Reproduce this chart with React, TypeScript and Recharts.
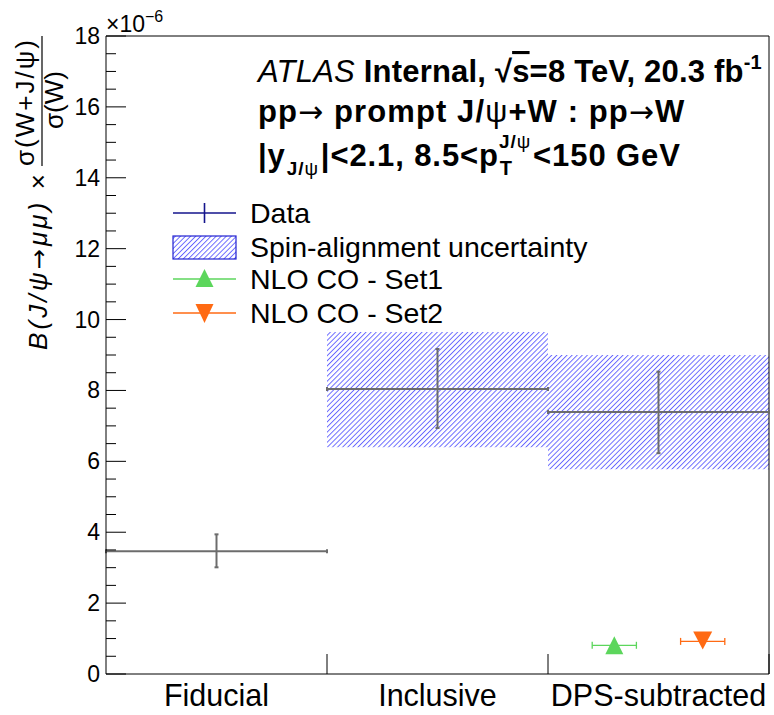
import React from 'react';
import {
  ComposedChart,
  Scatter,
  ErrorBar,
  XAxis,
  YAxis,
  ReferenceArea,
  ReferenceLine,
  Legend,
} from 'recharts';

// ---- data ----
const categories = ['Fiducial', 'Inclusive', 'DPS-subtracted'];
const binLow = [0, 1, 2];
const binHigh = [1, 2, 3];
const dataValues = [3.46, 8.04, 7.39];
const dataErrLow = [0.45, 1.1, 1.16];
const dataErrHigh = [0.48, 1.13, 1.14];
const spinLow = [null, 6.4, 5.78];
const spinHigh = [null, 9.65, 9.0];
const set1X = [2.3];
const set1Values = [0.81];
const set1XErr = [0.1];
const set2X = [2.7];
const set2Values = [0.92];
const set2XErr = [0.1];
const yTicks = [0, 0.5, 1, 1.5, 2, 2.5, 3, 3.5, 4, 4.5, 5, 5.5, 6, 6.5, 7, 7.5, 8, 8.5, 9, 9.5, 10, 10.5, 11, 11.5, 12, 12.5, 13, 13.5, 14, 14.5, 15, 15.5, 16, 16.5, 17, 17.5, 18];
const yMajorLabels = [0, 2, 4, 6, 8, 10, 12, 14, 16, 18];
const xTicks = [0.5, 1, 1.5, 2, 2.5, 3];
const legendLabels = ['Data', 'Spin-alignment uncertainty', 'NLO CO - Set1', 'NLO CO - Set2'];

const FONT = '"Liberation Sans", Arial, Helvetica, sans-serif';
const GRAY = '#6c6c6c';
const GREEN = '#5cd65c';
const ORANGE = '#ff6a13';
const NAVY = '#14148c';
const HATCH = '#3c3cff';

const dataPoints = categories.map((c, i) => ({
  x: (binLow[i] + binHigh[i]) / 2,
  y: dataValues[i],
  xErr: (binHigh[i] - binLow[i]) / 2,
  yErr: [dataErrLow[i], dataErrHigh[i]],
}));
const set1Points = set1X.map((x, i) => ({ x, y: set1Values[i], xErr: set1XErr[i] }));
const set2Points = set2X.map((x, i) => ({ x, y: set2Values[i], xErr: set2XErr[i] }));

const YTick = (props: any) => {
  const { x, y, payload } = props;
  const v = payload.value;
  const major = yMajorLabels.includes(v);
  return (
    <g>
      <line x1={x} y1={y} x2={x + (major ? 20 : 10)} y2={y} stroke="#000" strokeWidth={1} />
      {major && (
        <text x={x - 6} y={y + 8} textAnchor="end" fontFamily={FONT} fontSize={23} fill="#000">
          {v}
        </text>
      )}
    </g>
  );
};

const XTick = (props: any) => {
  const { x, y, payload } = props;
  const v = payload.value;
  if (Number.isInteger(v)) {
    return <line x1={x} y1={y} x2={x} y2={y - 20} stroke="#000" strokeWidth={1} />;
  }
  return (
    <text x={x} y={y + 32} textAnchor="middle" fontFamily={FONT} fontSize={30.5} fill="#000">
      {categories[Math.floor(v)]}
    </text>
  );
};

const NoShape = () => <g />;

const TriUp = (props: any) => {
  const { cx, cy } = props;
  return <polygon points={`${cx},${cy - 9} ${cx - 9},${cy + 9} ${cx + 9},${cy + 9}`} fill={GREEN} />;
};
const TriDown = (props: any) => {
  const { cx, cy } = props;
  return <polygon points={`${cx - 9.5},${cy - 10} ${cx + 9.5},${cy - 10} ${cx},${cy + 8}`} fill={ORANGE} />;
};

const LegendContent = () => {
  const rows = [18, 52, 84, 118];
  const x0 = 8;
  const x1 = 71;
  const xc = (x0 + x1) / 2;
  return (
    <svg width={460} height={140} style={{ display: 'block' }}>
      <line x1={x0} y1={rows[0]} x2={x1} y2={rows[0]} stroke={NAVY} strokeWidth={1.6} />
      <line x1={xc} y1={rows[0] - 10} x2={xc} y2={rows[0] + 10} stroke={NAVY} strokeWidth={1.6} />
      <rect x={x0} y={rows[1] - 11} width={x1 - x0} height={23} fill="url(#hatchPat)" stroke="#2020d0" strokeWidth={1.2} />
      <line x1={x0} y1={rows[2]} x2={x1} y2={rows[2]} stroke={GREEN} strokeWidth={1.3} />
      <polygon points={`${xc},${rows[2] - 10} ${xc - 9},${rows[2] + 8} ${xc + 9},${rows[2] + 8}`} fill={GREEN} />
      <line x1={x0} y1={rows[3]} x2={x1} y2={rows[3]} stroke={ORANGE} strokeWidth={1.3} />
      <polygon points={`${xc - 9},${rows[3] - 9} ${xc + 9},${rows[3] - 9} ${xc},${rows[3] + 10}`} fill={ORANGE} />
      {legendLabels.map((l, i) => (
        <text key={l} x={85} y={rows[i] + 10} fontFamily={FONT} fontSize={28.5} fill="#000">
          {l}
        </text>
      ))}
    </svg>
  );
};

export default function App() {
  return (
    <div style={{ position: 'absolute', left: 0, top: 0, width: 774, height: 715, background: '#fff' }}>
      <svg width={774} height={715} style={{ position: 'absolute', left: 0, top: 0 }}>
        <defs>
          <pattern id="hatchPat" patternUnits="userSpaceOnUse" width={3.6} height={3.6} patternTransform="rotate(45)">
            <line x1={0.5} y1={0} x2={0.5} y2={3.6} stroke={HATCH} strokeWidth={0.75} />
          </pattern>
        </defs>
      </svg>
      <div style={{ position: 'absolute', left: 0, top: 0 }}>
        <ComposedChart width={774} height={715} margin={{ top: 36, right: 5, bottom: 0, left: 0 }}>
          <XAxis
            type="number"
            dataKey="x"
            domain={[0, 3]}
            ticks={xTicks}
            interval={0}
            tick={<XTick />}
            tickLine={false}
            tickSize={0}
            tickMargin={0}
            height={41}
            axisLine={{ stroke: '#000', strokeWidth: 1 }}
            allowDataOverflow
          />
          <YAxis
            type="number"
            dataKey="y"
            domain={[0, 18]}
            ticks={yTicks}
            interval={0}
            tick={<YTick />}
            tickLine={false}
            tickSize={0}
            tickMargin={0}
            width={106}
            axisLine={{ stroke: '#000', strokeWidth: 1 }}
            allowDataOverflow
          />
          {categories.map((c, i) =>
            spinLow[i] != null ? (
              <ReferenceArea
                key={c}
                x1={binLow[i]}
                x2={binHigh[i]}
                y1={spinLow[i] as number}
                y2={spinHigh[i] as number}
                fill="url(#hatchPat)"
                fillOpacity={1}
                stroke="none"
              />
            ) : null
          )}
          <ReferenceLine y={18} stroke="#000" strokeWidth={1} />
          <ReferenceLine x={3} stroke="#000" strokeWidth={1} />
          <Scatter data={dataPoints} shape={<NoShape />} isAnimationActive={false}>
            <ErrorBar dataKey="xErr" direction="x" width={2} stroke={GRAY} strokeWidth={2} isAnimationActive={false} />
            <ErrorBar dataKey="yErr" direction="y" width={2} stroke={GRAY} strokeWidth={2} isAnimationActive={false} />
          </Scatter>
          <Scatter data={set1Points} shape={<TriUp />} isAnimationActive={false}>
            <ErrorBar dataKey="xErr" direction="x" width={3.5} stroke={GREEN} strokeWidth={1.3} isAnimationActive={false} />
          </Scatter>
          <Scatter data={set2Points} shape={<TriDown />} isAnimationActive={false}>
            <ErrorBar dataKey="xErr" direction="x" width={3.5} stroke={ORANGE} strokeWidth={1.3} isAnimationActive={false} />
          </Scatter>
          <Legend
            layout="vertical"
            align="center"
            verticalAlign="middle"
            wrapperStyle={{ left: 165, top: 195, width: 460, height: 140 }}
            content={<LegendContent />}
          />
        </ComposedChart>
      </div>
      <svg width={774} height={715} style={{ position: 'absolute', left: 0, top: 0, pointerEvents: 'none' }}>
        <text x={106} y={32} fontFamily={FONT} fontSize={23} fill="#000">
          ×10
          <tspan fontSize={16} dy={-10}>−6</tspan>
        </text>
        <text x={258} y={82} fontFamily={FONT} fontSize={31} fill="#000" letterSpacing={0.2}>
          <tspan fontStyle="italic">ATLAS</tspan>
          <tspan fontWeight="bold"> Internal,  √</tspan>
          <tspan fontWeight="bold" textDecoration="overline">s</tspan>
          <tspan fontWeight="bold">=8 TeV, 20.3 fb</tspan>
          <tspan fontWeight="bold" fontSize={20} dy={-13}>-1</tspan>
        </text>
        <text x={258} y={122} fontFamily={FONT} fontSize={31} fill="#000" fontWeight="bold" letterSpacing={1.1}>
          pp<tspan fontWeight="normal" fontFamily="DejaVu Sans" fontSize={30}>→</tspan> prompt J/<tspan fontWeight="normal">ψ</tspan>+W : pp<tspan fontWeight="normal" fontFamily="DejaVu Sans" fontSize={30}>→</tspan>W
        </text>
        <text x={258} y={166} fontFamily={FONT} fontSize={31} fill="#000" fontWeight="bold" letterSpacing={0.9}>
          |y
          <tspan fontSize={19} dy={9} dx={1}>J/<tspan fontWeight="normal">ψ</tspan></tspan>
          <tspan dy={-9} dx={2}>|&lt;2.1, 8.5&lt;p</tspan>
          <tspan fontSize={20} dy={9} dx={1}>T</tspan>
          <tspan fontSize={19} dx={-14} dy={-27}>J/<tspan fontWeight="normal">ψ</tspan></tspan>
          <tspan dy={18} dx={2}>&lt;150 GeV</tspan>
        </text>
        <g transform="rotate(-90)">
          <text x={-350} y={47} fontFamily={FONT} fontSize={26} fill="#000" textLength={176} lengthAdjust="spacing">
            <tspan fontStyle="italic">B(J/ψ</tspan>
            <tspan fontFamily="DejaVu Sans" fontSize={24}>→</tspan>
            <tspan fontStyle="italic">μμ)</tspan> ×
          </text>
          <text x={-103} y={34} fontFamily={FONT} fontSize={26} fill="#000" textAnchor="middle" textLength={126} lengthAdjust="spacing">
            σ(W+J/ψ)
          </text>
          <line x1={-166} y1={42} x2={-36} y2={42} stroke="#000" strokeWidth={1.2} />
          <text x={-100} y={63} fontFamily={FONT} fontSize={26} fill="#000" textAnchor="middle">
            σ(W)
          </text>
        </g>
      </svg>
    </div>
  );
}
